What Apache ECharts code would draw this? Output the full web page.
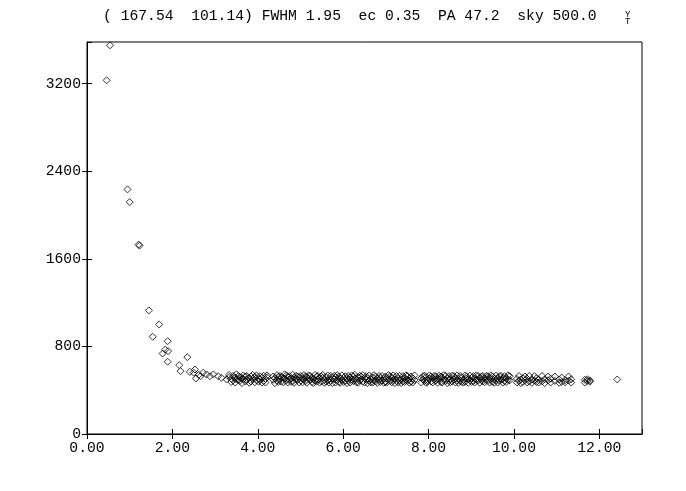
<!DOCTYPE html>
<html>
<head>
<meta charset="utf-8">
<script src="https://cdn.jsdelivr.net/npm/echarts@6/dist/echarts.min.js"></script>
<style>
  html, body { margin: 0; padding: 0; background: #fff; }
  #radialProfile { width: 686px; height: 491px; }
</style>
</head>
<body>
<div id="radialProfile"></div>
<script>
  // title line of the fit
  var titleText = '( 167.54  101.14) FWHM 1.95  ec 0.35  PA 47.2  sky 500.0';

  // inner profile points (radius, counts)
  var coreX = [0.46, 0.54, 0.95, 1.00, 1.21, 1.23, 1.45, 1.54, 1.69, 1.77,
    1.83, 1.89, 1.90, 1.89, 2.16, 2.19, 2.35, 2.41, 2.50, 2.53,
    2.55, 2.62, 2.66, 2.72, 2.80, 2.88, 2.96, 3.07, 3.15, 3.27, 12.42];
  var coreY = [3230, 3550, 2234, 2118, 1730, 1720, 1129, 888, 1001, 735,
    770, 848, 757, 660, 629, 574, 702, 568, 560, 589,
    507, 540, 528, 559, 544, 528, 544, 528, 513, 498, 498];

  // sky level band
  var bandX = [
    3.33, 3.38, 3.42, 3.47, 3.50, 3.55, 3.58, 3.63, 3.66, 3.71,
    3.74, 3.80, 3.84, 3.88, 3.93, 3.97, 4.02, 4.05, 4.10, 4.14,
    4.18, 4.22, 4.36, 4.40, 4.45, 4.48, 4.52, 4.55, 4.60, 4.63,
    4.67, 4.70, 4.74, 4.78, 4.82, 4.85, 4.90, 4.93, 4.97, 5.01,
    5.05, 5.08, 5.12, 5.15, 5.19, 5.23, 5.27, 5.30, 5.34, 5.38,
    5.41, 5.45, 5.49, 5.52, 5.56, 5.60, 5.64, 5.67, 5.71, 5.75,
    5.79, 5.82, 5.86, 5.90, 5.93, 5.97, 6.01, 6.05, 6.09, 6.12,
    6.16, 6.20, 6.24, 6.27, 6.31, 6.35, 6.39, 6.42, 6.46, 6.50,
    6.54, 6.57, 6.61, 6.65, 6.69, 6.72, 6.76, 6.80, 6.84, 6.87,
    6.91, 6.95, 6.99, 7.02, 7.06, 7.10, 7.14, 7.17, 7.21, 7.25,
    7.29, 7.32, 7.36, 7.40, 7.44, 7.47, 7.51, 7.55, 7.59, 7.63,
    7.67, 7.83, 7.87, 7.91, 7.94, 7.98, 8.02, 8.06, 8.10, 8.13,
    8.17, 8.21, 8.25, 8.29, 8.32, 8.36, 8.40, 8.44, 8.48, 8.51,
    8.55, 8.59, 8.63, 8.67, 8.70, 8.74, 8.78, 8.82, 8.86, 8.89,
    8.93, 8.97, 9.01, 9.05, 9.08, 9.12, 9.16, 9.20, 9.24, 9.27,
    9.31, 9.35, 9.39, 9.43, 9.46, 9.50, 9.54, 9.58, 9.62, 9.66,
    9.70, 9.74, 9.78, 9.82, 9.86, 9.90, 10.07, 10.12, 10.16, 10.21,
    10.26, 10.31, 10.36, 10.42, 10.48, 10.53, 10.58, 10.66, 10.72, 10.80,
    10.86, 10.96, 11.06, 11.12, 11.20, 11.28, 11.34, 11.66, 11.72, 11.78];
  var bandY1 = [
    520, 505, 490, 515, 498, 530, 485, 510, 500, 525,
    495, 512, 480, 505, 520, 490, 508, 497, 515, 485,
    502, 518, 495, 510, 488, 522, 500, 478, 512, 505,
    490, 525, 498, 508, 482, 515, 502, 495, 520, 488,
    510, 497, 483, 520, 505, 492, 515, 500, 488, 525,
    498, 507, 480, 512, 495, 520, 490, 503, 485, 510,
    500, 518, 492, 476, 508, 495, 512, 485, 503, 490,
    515, 498, 482, 505, 493, 520, 488, 500, 478, 510,
    495, 508, 485, 500, 517, 490, 480, 505, 495, 512,
    488, 502, 475, 510, 497, 485, 515, 492, 500, 482,
    505, 490, 498, 480, 512, 495, 487, 503, 478, 508,
    493, 510, 498, 485, 520, 492, 505, 480, 513, 497,
    488, 507, 500, 475, 515, 495, 485, 510, 492, 503,
    480, 498, 512, 490, 505, 485, 518, 495, 478, 507,
    500, 490, 512, 483, 505, 497, 488, 515, 493, 480,
    508, 495, 485, 512, 500, 477, 503, 492, 510, 488,
    497, 505, 483, 510, 495, 490, 503, 485, 498, 510,
    492, 505, 480, 498, 488, 510, 495, 482, 500, 490,
    505, 485, 498, 475, 492, 488, 500, 470, 485, 478];
  var bandY2 = [
    540, 475, 530, 470, 545, 495, 520, 465, 535, 480,
    530, 468, 525, 540, 472, 535, 478, 528, 470, 532,
    470, 535, 525, 465, 538, 475, 530, 520, 472, 545,
    535, 470, 528, 476, 540, 468, 532, 525, 470, 530,
    472, 538, 525, 468, 535, 530, 475, 465, 540, 478,
    530, 470, 525, 540, 468, 478, 535, 470, 530, 465,
    532, 470, 538, 522, 468, 535, 475, 528, 465, 530,
    470, 535, 525, 540, 472, 468, 532, 525, 538, 470,
    528, 465, 535, 472, 470, 538, 525, 468, 530, 475,
    530, 468, 525, 470, 538, 528, 472, 535, 465, 530,
    470, 532, 465, 528, 475, 535, 530, 468, 525, 470,
    535, 470, 528, 532, 468, 475, 535, 525, 470, 530,
    528, 468, 532, 525, 470, 538, 530, 465, 528, 472,
    532, 528, 470, 535, 468, 530, 475, 470, 535, 525,
    468, 532, 475, 528, 470, 535, 530, 468, 525, 530,
    472, 530, 528, 470, 535, 525, 468, 532, 470, 528,
    530, 470, 528, 475, 535, 528, 470, 530, 465, 475,
    525, 470, 530, 468, 528, 475, 470, 530, 465, 525,
    470, 525, 468, 515, 472, 525, 470, 495, 500, 490];

  var xMin = 0, xMax = 13, xStep = 2;
  var yMin = 0, yMax = 3580, yStep = 800;

  var FONT = '"Liberation Mono", "DejaVu Sans Mono", monospace';
  var plotBox = { left: 87, right: 44, top: 42, bottom: 57 };

  function zip(xs, ys) {
    var out = [];
    for (var i = 0; i < xs.length && i < ys.length; i++) out.push([xs[i], ys[i]]);
    return out;
  }

  var points = zip(coreX, coreY).concat(zip(bandX, bandY1)).concat(zip(bandX, bandY2));

  var chart = echarts.init(document.getElementById('radialProfile'));

  var tickStyle = { color: '#000', width: 1 };

  // second grid on the same box only carries the inner half of the ticks
  function axisPair(dim, min, max, step, labelOpts) {
    return [
      {
        type: 'value', gridIndex: 0, min: min, max: max, interval: step,
        position: dim === 'x' ? 'bottom' : 'left',
        splitLine: { show: false },
        axisLine: { show: true, onZero: false, lineStyle: { color: '#000', width: 1 } },
        axisTick: { show: true, length: 5, lineStyle: tickStyle },
        axisLabel: labelOpts
      },
      {
        type: 'value', gridIndex: 1, min: min, max: max, interval: step,
        position: dim === 'x' ? 'bottom' : 'left',
        splitLine: { show: false },
        axisLine: { show: false, onZero: false },
        axisTick: { show: true, inside: true, length: 5, lineStyle: tickStyle },
        axisLabel: { show: false }
      }
    ];
  }

  var option = {
    animation: false,
    backgroundColor: '#fff',
    grid: [
      Object.assign({ show: true, borderColor: '#000', borderWidth: 1, backgroundColor: 'transparent' }, plotBox),
      Object.assign({ show: false }, plotBox)
    ],
    graphic: [
      {
        type: 'text', left: 103, top: 9,
        style: { text: titleText, font: '14.7px ' + FONT, fill: '#000' }
      },
      {
        type: 'text', left: 625, top: 10,
        style: { text: 'Y\nT', font: '9px ' + FONT, lineHeight: 7, fill: '#000' }
      }
    ],
    xAxis: axisPair('x', xMin, xMax, xStep, {
      show: true, margin: 7, color: '#000', fontFamily: FONT, fontSize: 14.7,
      showMaxLabel: false,
      formatter: function (v) { return v.toFixed(2); }
    }),
    yAxis: axisPair('y', yMin, yMax, yStep, {
      show: true, margin: 6, color: '#000', fontFamily: FONT, fontSize: 14.7,
      showMaxLabel: false,
      formatter: function (v) { return String(v); }
    }),
    series: [
      {
        type: 'scatter',
        xAxisIndex: 0, yAxisIndex: 0,
        symbol: 'diamond',
        symbolSize: 7,
        itemStyle: { color: 'rgba(0,0,0,0)', borderColor: '#000', borderWidth: 1 },
        data: points
      }
    ]
  };

  chart.setOption(option);
</script>
</body>
</html>
